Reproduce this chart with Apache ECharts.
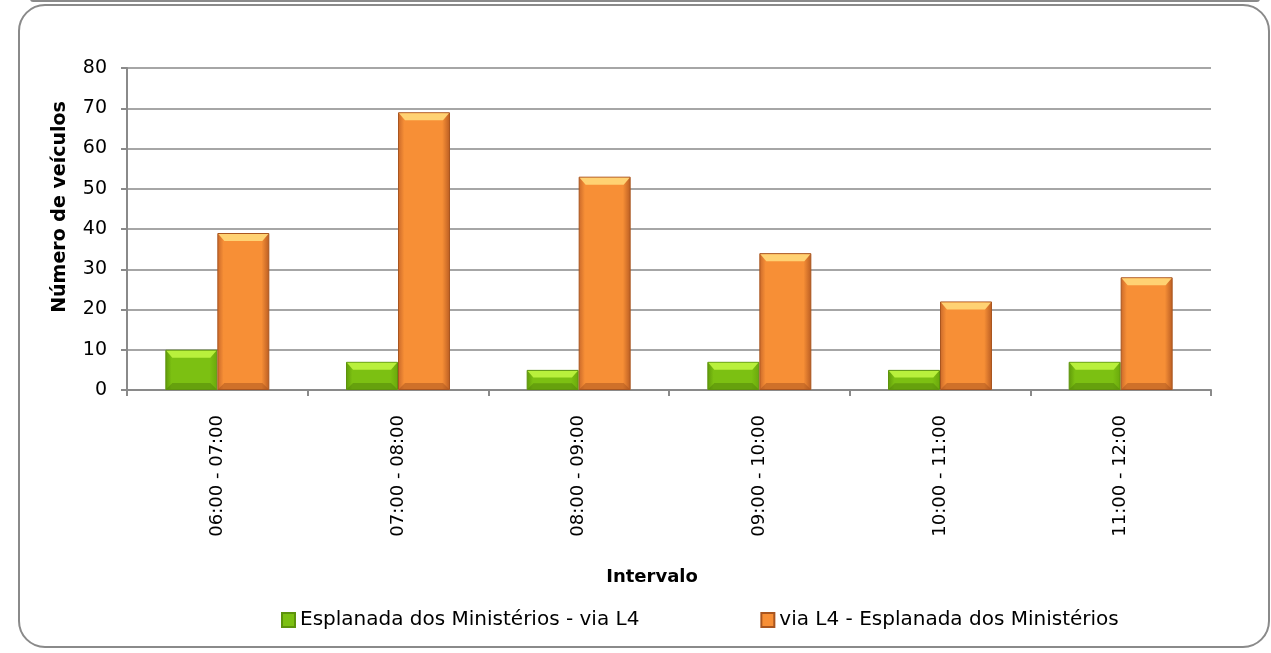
<!DOCTYPE html>
<html>
<head>
<meta charset="utf-8">
<script src="https://cdn.jsdelivr.net/npm/echarts@6/dist/echarts.min.js"></script>
<style>
    html, body { margin: 0; padding: 0; background: #fff; }
    #main { width: 1271px; height: 653px; }
</style>
</head>
<body>
<div id="main"></div>
<script>
    var categorias = ['06:00 - 07:00', '07:00 - 08:00', '08:00 - 09:00', '09:00 - 10:00', '10:00 - 11:00', '11:00 - 12:00'];
    var esplanadaL4 = [10, 7, 5, 7, 5, 7];
    var l4Esplanada = [39, 69, 53, 34, 22, 28];
    var nomes = ['Esplanada dos Ministérios - via L4', 'via L4 - Esplanada dos Ministérios'];

    var fonte = 'DejaVu Sans, Liberation Sans, sans-serif';
    var largura = 52;

    function grad(c1, c2, c3) {
        return new echarts.graphic.LinearGradient(0, 0, 1, 0, [
            { offset: 0, color: c1 },
            { offset: 0.12, color: c2 },
            { offset: 0.85, color: c2 },
            { offset: 1, color: c3 }
        ]);
    }

    // faixa clara no topo e escura na base de cada barra (efeito bisel)
    function bisel(desloc, claro, escuro) {
        return function (params, api) {
            var topo = api.coord([api.value(0), api.value(1)]);
            var base = api.coord([api.value(0), 0]);
            var x0 = topo[0] + desloc, x1 = x0 + largura;
            var y0 = topo[1], y1 = base[1];
            var b = Math.min(7, (y1 - y0) / 3);
            return {
                type: 'group',
                children: [
                    {
                        type: 'polygon',
                        shape: { points: [[x0 + 1, y0 + 1], [x1 - 1, y0 + 1], [x1 - b, y0 + b + 1], [x0 + b, y0 + b + 1]] },
                        style: { fill: claro }
                    },
                    {
                        type: 'polygon',
                        shape: { points: [[x0 + 1, y1 - 1], [x1 - 1, y1 - 1], [x1 - b, y1 - b], [x0 + b, y1 - b]] },
                        style: { fill: escuro, opacity: 0.5 }
                    }
                ]
            };
        };
    }

    var myChart = echarts.init(document.getElementById('main'));
    var option = {
        animation: false,
        textStyle: { fontFamily: fonte },
        graphic: [
            {
                type: 'rect',
                shape: { x: 19, y: 5, width: 1250, height: 642, r: 26 },
                style: { fill: 'none', stroke: '#8a8a8a', lineWidth: 2 }
            },
            {
                type: 'rect',
                shape: { x: 30, y: -4, width: 1230, height: 6, r: 3 },
                style: { fill: '#8a8a8a' }
            },
            {
                type: 'text',
                x: 60,
                y: 207,
                rotation: Math.PI / 2,
                style: {
                    text: 'Número de veículos',
                    fontSize: 19,
                    fontWeight: 'bold',
                    fontFamily: fonte,
                    fill: '#000',
                    align: 'center',
                    verticalAlign: 'middle'
                }
            }
        ],
        grid: { left: 127, right: 60, top: 68, bottom: 263 },
        legend: {
            data: nomes,
            bottom: 18,
            left: 276,
            icon: 'rect',
            itemWidth: 13,
            itemHeight: 14,
            itemGap: 121,
            textStyle: { fontSize: 20, color: '#000', fontFamily: fonte }
        },
        xAxis: {
            type: 'category',
            data: categorias,
            name: 'Intervalo',
            nameLocation: 'middle',
            nameGap: 178,
            nameTextStyle: { fontSize: 18, fontWeight: 'bold', color: '#000', padding: [0, 34, 0, 0] },
            axisLine: { lineStyle: { color: '#8a8a8a', width: 2 } },
            axisTick: { show: true, length: 6, lineStyle: { color: '#8a8a8a', width: 2 } },
            axisLabel: { rotate: 90, fontSize: 18, color: '#000', margin: 25 }
        },
        yAxis: {
            type: 'value',
            min: 0,
            max: 80,
            interval: 10,
            axisLine: { show: true, lineStyle: { color: '#8a8a8a', width: 2 } },
            axisTick: { show: true, length: 6, lineStyle: { color: '#8a8a8a', width: 2 } },
            axisLabel: { fontSize: 19, color: '#000', margin: 20 },
            splitLine: { lineStyle: { color: '#a6a6a6', width: 2 } }
        },
        series: [
            {
                name: nomes[0],
                type: 'bar',
                data: esplanadaL4,
                barWidth: largura,
                barGap: '0%',
                itemStyle: {
                    color: grad('#5f9a0a', '#7cc012', '#6aa80c'),
                    borderColor: '#5d930c',
                    borderWidth: 1
                }
            },
            {
                name: nomes[1],
                type: 'bar',
                data: l4Esplanada,
                barWidth: largura,
                barGap: '0%',
                itemStyle: {
                    color: grad('#c9682a', '#f78f36', '#b95c22'),
                    borderColor: '#a9551f',
                    borderWidth: 1
                }
            },
            {
                type: 'custom',
                silent: true,
                z: 3,
                renderItem: bisel(-largura, '#b9f03c', '#4f8208'),
                data: esplanadaL4.map(function (v, i) { return [i, v]; })
            },
            {
                type: 'custom',
                silent: true,
                z: 3,
                renderItem: bisel(0, '#ffd273', '#a8521c'),
                data: l4Esplanada.map(function (v, i) { return [i, v]; })
            }
        ]
    };
    myChart.setOption(option);
</script>
</body>
</html>
